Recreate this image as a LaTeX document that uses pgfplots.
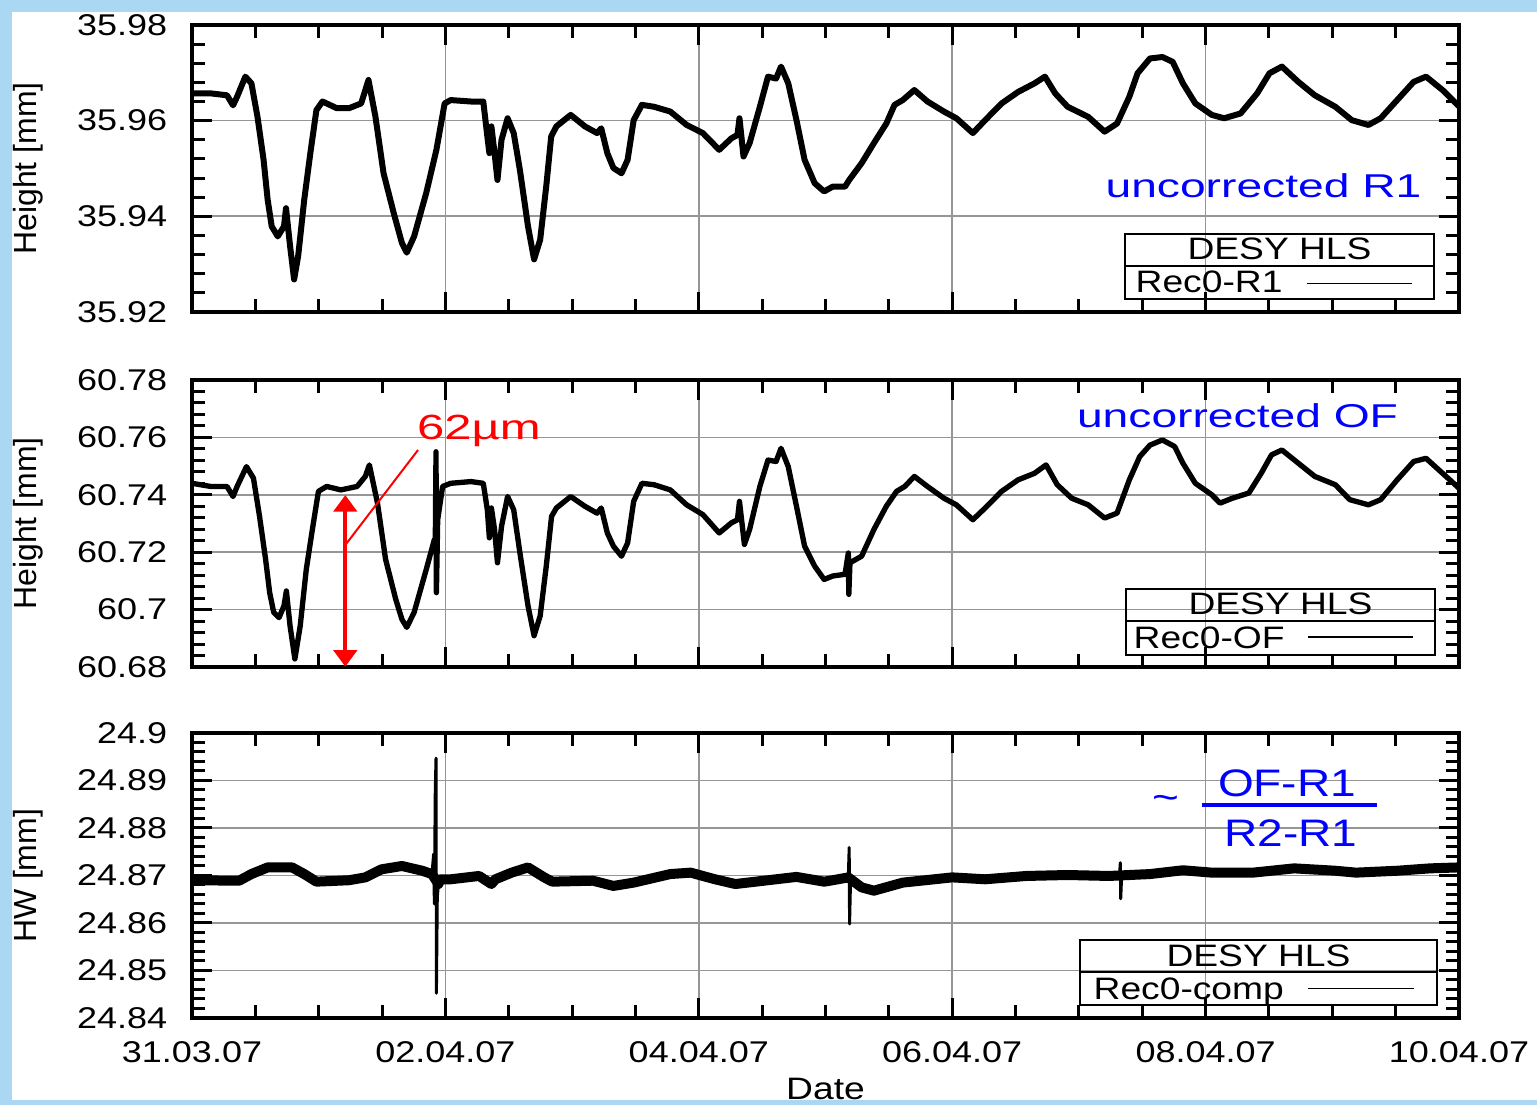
\documentclass[border=0pt]{standalone}
\usepackage{pgfplots}
\pgfplotsset{compat=1.18}
\usetikzlibrary{arrows.meta}
\usepackage{fontspec}
\setmainfont{Liberation Sans}
\newfontfamily\widefont[FakeStretch=1.2]{Liberation Sans}
\newfontfamily\bluefont[FakeStretch=1.4]{Liberation Sans}
\newcommand\tickfont{\widefont\fontsize{9}{10}\selectfont}
\newcommand\labelfont{\fontsize{9.6}{10}\selectfont}
\newcommand\legfont{\widefont\fontsize{9.3}{10}\selectfont}
\definecolor{bgblue}{RGB}{170,216,242}
\definecolor{gridgray}{RGB}{150,150,150}
\pgfplotsset{
  hls/.style={
    scale only axis, width=380.1pt, anchor=south west,
    xmin=0, xmax=10, xtick={0,2,4,6,8,10}, minor x tick num=3,
    minor y tick num=4,
    grid=major, major grid style={draw=gridgray, line width=0.5pt},
    axis line style={line width=1.2pt},
    tick style={black, line width=0.9pt},
    major tick length=6pt, minor tick length=4pt,
    tick align=inside,
    /pgf/number format/assume math mode=true,
    yticklabel style={font=\tickfont, xshift=-3.9pt, /pgf/number format/fixed, /pgf/number format/precision=2},
    xticklabel style={font=\tickfont, anchor=base, yshift=-13.5pt},
    ylabel style={at={(axis description cs:-0.1294,0.5)}, anchor=center, font=\labelfont},
    unbounded coords=jump,
  }
}
\begin{document}
\begin{tikzpicture}
\useasboundingbox (0,0) rectangle (461.1pt,331.5pt);
\fill[bgblue] (0,0) rectangle (461.1pt,331.5pt);
\fill[white] (3.6pt,1.5pt) rectangle (461.1pt,327.9pt);

% ---------- Panel 1 ----------
\begin{axis}[hls, at={(57.6pt,237.9pt)}, height=86.1pt,
  ymin=35.92, ymax=35.98, ytick={35.92,35.94,35.96,35.98},
  xticklabels={}, ylabel={Height [mm]}]
\addplot[black, line width=1.8pt, line join=round] coordinates {
(0.000,35.9657) (0.148,35.9657) (0.276,35.9653) (0.324,35.9632) (0.356,35.9650)
(0.421,35.9692) (0.469,35.9678) (0.517,35.9608) (0.565,35.9518) (0.597,35.9435)
(0.629,35.9379) (0.677,35.9358) (0.726,35.9379) (0.742,35.9417) (0.774,35.9338)
(0.806,35.9268) (0.838,35.9317) (0.886,35.9435) (0.934,35.9532) (0.982,35.9622)
(1.030,35.9640) (1.143,35.9626) (1.239,35.9626) (1.335,35.9636) (1.393,35.9685)
(1.448,35.9608) (1.512,35.9490) (1.592,35.9407) (1.657,35.9344) (1.695,35.9324)
(1.753,35.9358) (1.849,35.9449) (1.929,35.9539) (1.994,35.9636) (2.042,35.9643)
(2.202,35.9640) (2.299,35.9640) (2.331,35.9567) (2.347,35.9532) (2.363,35.9588)
(2.388,35.9532) (2.411,35.9476) (2.443,35.9560) (2.491,35.9605) (2.539,35.9574)
(2.588,35.9497) (2.652,35.9379) (2.700,35.9310) (2.748,35.9351) (2.796,35.9463)
(2.835,35.9567) (2.876,35.9588) (2.989,35.9612) (3.101,35.9588) (3.197,35.9574)
(3.230,35.9584) (3.278,35.9532) (3.326,35.9501) (3.390,35.9490) (3.438,35.9518)
(3.486,35.9601) (3.551,35.9633) (3.647,35.9629) (3.775,35.9619) (3.904,35.9591)
(4.032,35.9574) (4.161,35.9539) (4.257,35.9563) (4.305,35.9570) (4.321,35.9605)
(4.353,35.9525) (4.401,35.9553) (4.482,35.9629) (4.546,35.9692) (4.610,35.9688)
(4.649,35.9713) (4.706,35.9678) (4.771,35.9601) (4.835,35.9518) (4.915,35.9469)
(4.989,35.9452) (5.057,35.9462) (5.154,35.9462) (5.187,35.9476) (5.285,35.9511)
(5.382,35.9553) (5.480,35.9594) (5.545,35.9633) (5.610,35.9643) (5.701,35.9664)
(5.805,35.9640) (5.935,35.9619) (6.033,35.9605) (6.163,35.9574) (6.260,35.9601)
(6.390,35.9636) (6.520,35.9660) (6.650,35.9678) (6.732,35.9692) (6.813,35.9657)
(6.911,35.9629) (7.073,35.9608) (7.203,35.9577) (7.301,35.9594) (7.398,35.9650)
(7.463,35.9699) (7.561,35.9730) (7.659,35.9733) (7.740,35.9723) (7.821,35.9678)
(7.919,35.9636) (8.049,35.9612) (8.146,35.9605) (8.276,35.9615) (8.407,35.9657)
(8.504,35.9699) (8.602,35.9713) (8.732,35.9681) (8.862,35.9653) (9.024,35.9629)
(9.154,35.9601) (9.285,35.9591) (9.382,35.9605) (9.512,35.9643) (9.642,35.9681)
(9.740,35.9692) (9.870,35.9664) (10.000,35.9630)
};
\end{axis}

% ---------- Panel 2 ----------
\begin{axis}[hls, at={(57.6pt,131.4pt)}, height=86.1pt,
  ymin=60.68, ymax=60.78, ytick={60.68,60.70,60.72,60.74,60.76,60.78},
  xticklabels={}, ylabel={Height [mm]}]
\addplot[black, line width=1.6pt, line join=round] coordinates {
(0.000,60.7440) (0.148,60.7429) (0.276,60.7429) (0.324,60.7394) (0.356,60.7429)
(0.430,60.7498) (0.485,60.7458) (0.533,60.7325) (0.581,60.7175) (0.613,60.7059)
(0.645,60.6990) (0.687,60.6972) (0.726,60.7013) (0.745,60.7065) (0.774,60.6943)
(0.812,60.6828) (0.854,60.6943) (0.902,60.7140) (0.950,60.7279) (0.998,60.7412)
(1.063,60.7429) (1.175,60.7417) (1.303,60.7429) (1.368,60.7464) (1.400,60.7504)
(1.464,60.7371) (1.528,60.7175) (1.608,60.7036) (1.657,60.6966) (1.695,60.6938)
(1.753,60.6990) (1.849,60.7140) (1.913,60.7244) (1.920,60.7221) (1.926,60.7550)
(1.929,60.7059) (1.939,60.7313) (1.978,60.7429) (2.042,60.7440) (2.202,60.7446)
(2.299,60.7440) (2.331,60.7348) (2.347,60.7250) (2.363,60.7354) (2.388,60.7279)
(2.411,60.7163) (2.443,60.7290) (2.491,60.7394) (2.539,60.7348) (2.588,60.7198)
(2.652,60.7013) (2.700,60.6909) (2.748,60.6978) (2.796,60.7151) (2.838,60.7325)
(2.876,60.7354) (2.989,60.7394) (3.101,60.7360) (3.197,60.7336) (3.230,60.7354)
(3.278,60.7267) (3.326,60.7221) (3.390,60.7186) (3.438,60.7232) (3.486,60.7377)
(3.551,60.7440) (3.647,60.7435) (3.775,60.7417) (3.904,60.7365) (4.032,60.7331)
(4.161,60.7267) (4.257,60.7302) (4.305,60.7313) (4.321,60.7377) (4.360,60.7227)
(4.401,60.7279) (4.482,60.7429) (4.546,60.7521) (4.610,60.7516) (4.649,60.7562)
(4.706,60.7498) (4.771,60.7360) (4.835,60.7221) (4.915,60.7151) (4.989,60.7105)
(5.057,60.7117) (5.154,60.7123) (5.180,60.7197) (5.184,60.7053) (5.193,60.7163)
(5.285,60.7186) (5.382,60.7279) (5.480,60.7360) (5.561,60.7412) (5.626,60.7429)
(5.701,60.7464) (5.805,60.7429) (5.935,60.7388) (6.033,60.7365) (6.163,60.7313)
(6.260,60.7354) (6.390,60.7412) (6.520,60.7452) (6.650,60.7475) (6.741,60.7504)
(6.829,60.7435) (6.943,60.7388) (7.073,60.7365) (7.203,60.7319) (7.301,60.7336)
(7.398,60.7452) (7.480,60.7533) (7.561,60.7573) (7.659,60.7591) (7.756,60.7568)
(7.821,60.7510) (7.919,60.7440) (8.049,60.7400) (8.114,60.7371) (8.211,60.7388)
(8.341,60.7406) (8.439,60.7475) (8.520,60.7539) (8.602,60.7556) (8.732,60.7510)
(8.862,60.7464) (9.024,60.7435) (9.138,60.7383) (9.285,60.7365) (9.382,60.7383)
(9.512,60.7452) (9.642,60.7516) (9.740,60.7527) (9.870,60.7475) (10.000,60.7423)
};
\draw[red, line width=1.2pt, {Triangle[width=7pt,length=5pt]}-{Triangle[width=7pt,length=5pt]}]
  (axis cs:1.21,60.7399) -- (axis cs:1.21,60.6801);
\draw[red, line width=0.6pt] (axis cs:1.21,60.7225) -- (axis cs:1.784,60.7556);
\node[red, anchor=base, font=\bluefont\fontsize{10.5}{12}\selectfont, inner sep=0pt]
  at (axis cs:2.265,60.7591) {62µm};
\end{axis}

% ---------- Panel 3 ----------
\begin{axis}[hls, at={(57.6pt,26.1pt)}, height=85.5pt,
  ymin=24.84, ymax=24.9, ytick={24.84,24.85,24.86,24.87,24.88,24.89,24.9},
  xticklabels={31.03.07,02.04.07,04.04.07,06.04.07,08.04.07,10.04.07},
  xlabel={Date},
  xlabel style={at={(axis description cs:0.5,0)}, anchor=base, yshift=-24.6pt, font=\widefont\fontsize{9.3}{10}\selectfont},
  ylabel={HW [mm]}]
\addplot[black, line width=3pt, line join=round] coordinates {
(0.000,24.8690) (0.372,24.8689) (0.469,24.8703) (0.597,24.8717) (0.790,24.8717)
(0.886,24.8703) (0.982,24.8687) (1.239,24.8690) (1.368,24.8696) (1.496,24.8713)
(1.657,24.8720) (1.817,24.8710) (1.894,24.8703) (1.945,24.8682) (1.961,24.8692)
(2.042,24.8692) (2.266,24.8699) (2.363,24.8682) (2.395,24.8692) (2.523,24.8706)
(2.652,24.8717) (2.780,24.8696) (2.844,24.8687) (3.165,24.8689) (3.326,24.8678)
(3.486,24.8685) (3.775,24.8703) (3.936,24.8706) (4.128,24.8692) (4.289,24.8682)
(4.610,24.8692) (4.771,24.8697) (4.989,24.8687) (5.057,24.8690) (5.180,24.8696)
(5.285,24.8675) (5.382,24.8668) (5.610,24.8685) (6.000,24.8696) (6.260,24.8692)
(6.585,24.8699) (6.911,24.8701) (7.236,24.8699) (7.561,24.8703) (7.821,24.8711)
(8.049,24.8706) (8.374,24.8706) (8.699,24.8715) (9.024,24.8710) (9.187,24.8706)
(9.512,24.8710) (9.772,24.8715) (10.000,24.8717)
};
\addplot[black, line width=0.9pt, line join=round] coordinates {
(1.894,24.8703) (1.907,24.8745) (1.913,24.8640) (1.920,24.8877) (1.926,24.8947)
(1.929,24.8452) (1.936,24.8654) (1.945,24.8682)
(nan,nan)
(5.180,24.8696) (5.187,24.8759) (5.190,24.8598) (5.197,24.8682)
(nan,nan)
(7.320,24.8699) (7.327,24.8727) (7.330,24.8651) (7.337,24.8697)
};
\end{axis}

% ---------- annotations in image pixel coordinates ----------
\begin{scope}[x=0.3pt, y=-0.3pt, yshift=331.5pt]
  % legend boxes
  \draw[line width=0.6pt] (1125,234) rectangle (1434,299);
  \draw[line width=0.6pt] (1125,266.5) -- (1434,266.5);
  \node[anchor=base, inner sep=0pt, font=\legfont] at (1279.5,260) {DESY HLS};
  \node[anchor=base west, inner sep=0pt, font=\legfont] at (1135,293) {Rec0-R1};
  \draw[line width=0.5pt] (1307,283.5) -- (1412,283.5);

  \draw[line width=0.6pt] (1126,589) rectangle (1435,655);
  \draw[line width=0.6pt] (1126,621) -- (1435,621);
  \node[anchor=base, inner sep=0pt, font=\legfont] at (1280.5,615) {DESY HLS};
  \node[anchor=base west, inner sep=0pt, font=\legfont] at (1133,649) {Rec0-OF};
  \draw[line width=0.5pt] (1308,637) -- (1413,637);

  \draw[line width=0.6pt] (1080,940) rectangle (1437,1005.5);
  \draw[line width=0.6pt] (1080,972) -- (1437,972);
  \node[anchor=base, inner sep=0pt, font=\legfont] at (1258.5,966.5) {DESY HLS};
  \node[anchor=base west, inner sep=0pt, font=\legfont] at (1093,1000) {Rec0-comp};
  \draw[line width=0.5pt] (1308,988.5) -- (1414,988.5);

  % blue labels
  \node[blue, anchor=base, inner sep=0pt, font=\bluefont\fontsize{9.9}{12}\selectfont] at (1263.5,198) {uncorrected R1};
  \node[blue, anchor=base, inner sep=0pt, font=\bluefont\fontsize{9.9}{12}\selectfont] at (1237.5,428) {uncorrected OF};
  \node[blue, anchor=base, inner sep=0pt, font=\widefont\fontsize{11.5}{12}\selectfont] at (1287,797) {OF-R1};
  \node[blue, anchor=base, inner sep=0pt, font=\widefont\fontsize{11.5}{12}\selectfont] at (1291,847) {R2-R1};
  \draw[blue, line width=1pt] (1201.5,805) -- (1376.5,805);
  \node[blue, anchor=center, inner sep=0pt, font=\widefont\fontsize{11.5}{12}\selectfont] at (1165.5,803) {\char"007E};
\end{scope}
\end{tikzpicture}
\end{document}
